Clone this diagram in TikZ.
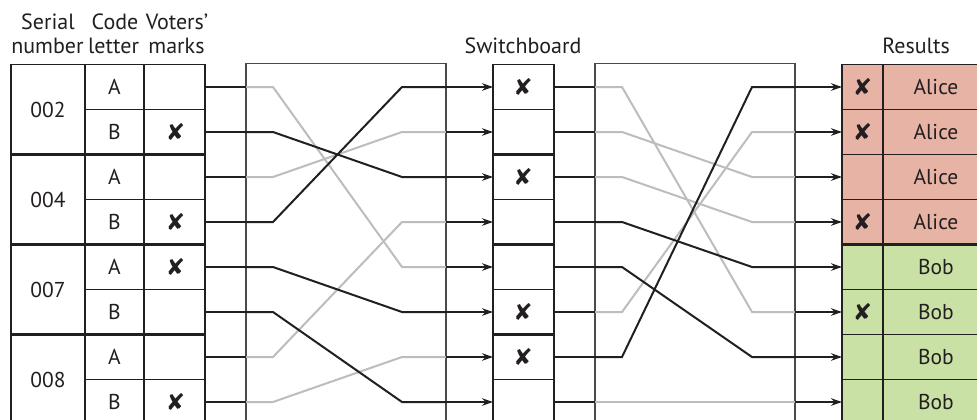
\documentclass[tikz,border=0pt]{standalone}
\usepackage{fontspec}
\setmainfont{PT Sans}
\newfontfamily\symf{DejaVu Sans}
\usetikzlibrary{arrows.meta}
\definecolor{ink}{HTML}{231F20}
\definecolor{mix}{HTML}{BDBDBD}
\definecolor{alicec}{HTML}{E6B3A4}
\definecolor{bobc}{HTML}{CAE1A5}
\definecolor{frame}{HTML}{4A4A4A}
\begin{document}
\begin{tikzpicture}[x=1pt,y=-1pt,
  grid/.style={draw=ink, line width=1.3pt},
  sep/.style={draw=ink, line width=2.6pt},
  boxline/.style={draw=frame, line width=1.2pt},
  wire/.style={draw=ink, line width=2pt},
  gwire/.style={draw=mix, line width=2pt},
  arr/.style={wire, -{Stealth[length=11pt,width=7.5pt]}},
  txt/.style={font=\fontsize{21.5}{21.5}\selectfont, text=ink, inner sep=0pt},
  head/.style={font=\fontsize{22}{22}\selectfont, text=ink, inner sep=0pt, anchor=base},
  xmark/.style={font=\symf\bfseries\fontsize{23}{23}\selectfont, text=ink, inner sep=0pt}]
\clip (0,0) rectangle (977,420);
\fill[white] (0,0) rectangle (977,420);
\def\T{64.5}
\def\H{45}
% coloured result cells
\fill[alicec] (842,\T) rectangle (1000,244.5);
\fill[bobc] (842,244.5) rectangle (1000,440);
% ports
\foreach \i in {0,...,7}{
  \pgfmathsetmacro\yc{\T+\H*(\i+0.5)}
  \coordinate (tr\i) at (205,\yc);
  \coordinate (a\i) at (246,\yc);
  \coordinate (ak\i) at (273,\yc);
  \coordinate (bk\i) at (402,\yc);
  \coordinate (b\i) at (446,\yc);
  \coordinate (s\i) at (493,\yc);
  \coordinate (sr\i) at (554,\yc);
  \coordinate (c\i) at (595,\yc);
  \coordinate (ck\i) at (622,\yc);
  \coordinate (dk\i) at (752,\yc);
  \coordinate (d\i) at (795,\yc);
  \coordinate (r\i) at (842,\yc);
}
% left table
\foreach \x in {11,85,144,205}{\draw[grid] (\x,\T) -- (\x,440);}
\draw[grid] (11,\T) -- (205,\T);
\foreach \k in {1,3,5,7}{\draw[grid] (85,\T+\H*\k) -- (205,\T+\H*\k);}
\foreach \k in {2,4,6}{\draw[sep] (11,\T+\H*\k) -- (205,\T+\H*\k);}
% switchboard
\foreach \x in {493,554}{\draw[grid] (\x,\T) -- (\x,440);}
\foreach \k in {0,1,3,5,7}{\draw[grid] (493,\T+\H*\k) -- (554,\T+\H*\k);}
\foreach \k in {2,4,6}{\draw[sep] (493,\T+\H*\k) -- (554,\T+\H*\k);}
% results
\foreach \x in {842,883}{\draw[grid] (\x,\T) -- (\x,440);}
\foreach \k in {0,1,2,3,5,6,7}{\draw[grid] (842,\T+\H*\k) -- (1000,\T+\H*\k);}
\draw[sep] (842,\T+\H*4) -- (1000,\T+\H*4);
% mixing boxes
\draw[boxline] (246,440) -- (246,63.5) -- (446,63.5) -- (446,440);
\draw[boxline] (595,440) -- (595,63.5) -- (795,63.5) -- (795,440);
% headers
\node[head] (h1a) at (48,30) {Serial};
\node[head] (h1b) at (47.5,53) {number};
\node[head] (h2a) at (115,30) {Code};
\node[head] (h2b) at (113.5,53) {letter};
\node[head] (h3a) at (177,30) {Voters’};
\node[head] (h3b) at (176.5,53) {marks};
\node[head] (h4) at (523,53) {Switchboard};
\node[head] (h5) at (916,53) {Results};
% serial numbers
\foreach \g/\n in {0/002,1/004,2/007,3/008}{
  \node[txt] (sn\g) at (48,\T+\H*2*\g+\H) {\n};}
% code letters
\foreach \i/\l in {0/A,1/B,2/A,3/B,4/A,5/B,6/A,7/B}{
  \node[txt] (cl\i) at (114.5,\T+\H*\i+\H/2) {\l};}
% voter marks
\foreach \i in {1,3,4,7}{\node[xmark] (vm\i) at (175.5,\T+\H*\i+\H/2) {✘};}
% switchboard marks
\foreach \i in {0,2,5,6}{\node[xmark] (sm\i) at (523,\T+\H*\i+\H/2) {✘};}
% results marks
\foreach \i in {0,1,3,5}{\node[xmark] (rm\i) at (862.5,\T+\H*\i+\H/2) {✘};}
% names
\foreach \i in {0,...,3}{\node[txt] (nm\i) at (936,\T+\H*\i+\H/2) {Alice};}
\foreach \i in {4,...,7}{\node[txt] (nm\i) at (936,\T+\H*\i+\H/2) {Bob};}
% short black wires
\foreach \i in {0,...,7}{
  \draw[wire] (tr\i) -- (a\i);
  \draw[wire] (sr\i) -- (c\i);
}
% first mixing box
\foreach \i/\j in {0/4,2/1,6/3,7/6}{\draw[gwire] (a\i) -- (ak\i) -- (bk\j) -- (b\j);}
\foreach \i/\j in {1/2,3/0,4/5,5/7}{\draw[wire] (a\i) -- (ak\i) -- (bk\j) -- (b\j);}
% second mixing box
\foreach \i/\j in {0/5,1/2,2/3,5/1,7/7}{\draw[gwire] (c\i) -- (ck\i) -- (dk\j) -- (d\j);}
\foreach \i/\j in {3/4,4/6,6/0}{\draw[wire] (c\i) -- (ck\i) -- (dk\j) -- (d\j);}
% arrows
\foreach \i in {0,...,7}{
  \draw[arr] (b\i) -- (s\i);
  \draw[arr] (d\i) -- (r\i);
}
\end{tikzpicture}
\end{document}
